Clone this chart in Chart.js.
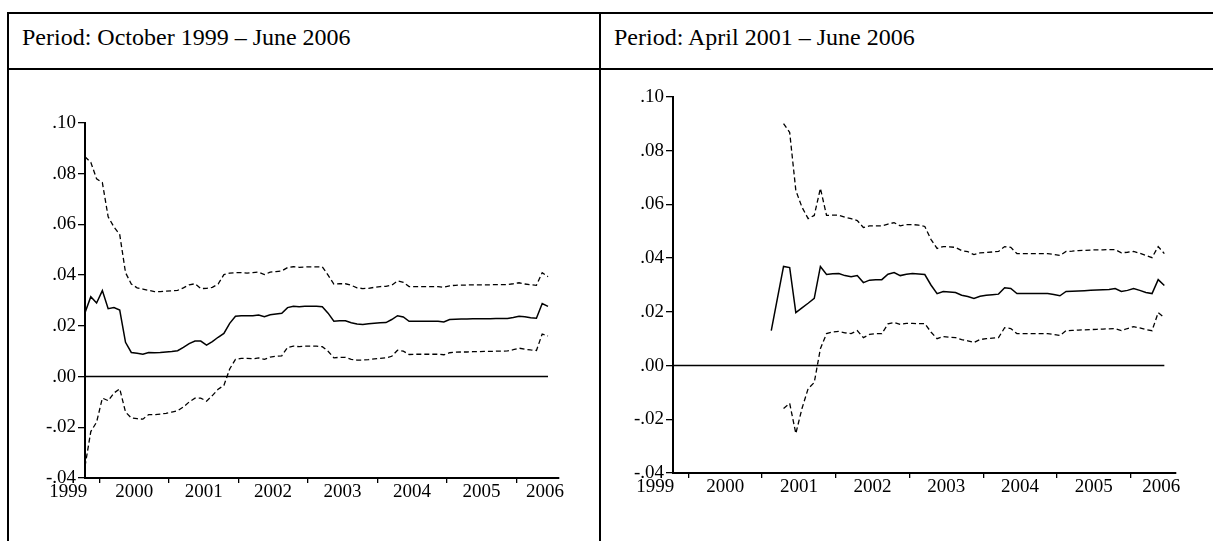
<!DOCTYPE html>
<html>
<head>
<meta charset="utf-8">
<script src="https://cdn.jsdelivr.net/npm/chart.js@4.4.1/dist/chart.umd.min.js"></script>
<style>
  body { margin: 0; background: #fff; }
  #page { position: relative; width: 1213px; height: 541px; overflow: hidden; font-family: 'Liberation Serif', 'Times New Roman', serif; }
  .rule { position: absolute; background: #000; }
  .head { position: absolute; top: 23px; font-size: 24px; line-height: 28px; color: #000; white-space: nowrap; }
  canvas { position: absolute; }
</style>
</head>
<body>
<div id="page">
  <div class="rule" style="left:7px;top:12px;width:1206px;height:2px"></div>
  <div class="rule" style="left:7px;top:68px;width:1206px;height:2px"></div>
  <div class="rule" style="left:7px;top:12px;width:2px;height:529px"></div>
  <div class="rule" style="left:599px;top:12px;width:2px;height:529px"></div>
  <div class="head" style="left:22px">Period: October 1999 – June 2006</div>
  <div class="head" style="left:614px">Period: April 2001 – June 2006</div>
  <canvas id="left" width="590" height="471" style="left:9px;top:70px"></canvas>
  <canvas id="right" width="612" height="471" style="left:601px;top:70px"></canvas>
</div>
<script>
/** DATA (monthly, index 0 = October 1999, index 80 = June 2006) */

const upper1 = [
    .0867, .0845, .0780, .0765, .0630, .0590, .0560, .0410, .0365, .0350,
    .0345, .0340, .0335, .0335, .0337, .0338, .0340, .0350, .0362, .0366,
    .0347, .0348, .0352, .0365, .0402, .0408, .0410, .0410, .0408, .0410,
    .0412, .0402, .0412, .0414, .0417, .0430, .0433, .0431, .0432, .0433,
    .0433, .0433, .0400, .0365, .0366, .0366, .0360, .0350, .0347, .0348,
    .0352, .0355, .0356, .0360, .0377, .0372, .0355, .0355, .0355, .0355,
    .0355, .0355, .0352, .0358, .0360, .0361, .0361, .0362, .0362, .0362,
    .0362, .0363, .0363, .0363, .0366, .0370, .0365, .0362, .0360, .0410,
    .0394
];
const mid1 = [
    .0252, .0315, .0290, .0339, .0268, .0272, .0262, .0135, .0095, .0092,
    .0088, .0095, .0094, .0095, .0097, .0099, .0102, .0115, .0130, .0140,
    .0140, .0124, .0138, .0155, .0170, .0210, .0238, .0240, .0240, .0240,
    .0243, .0236, .0244, .0247, .0250, .0272, .0277, .0275, .0277, .0277,
    .0277, .0275, .0250, .0218, .0220, .0220, .0212, .0207, .0205, .0208,
    .0210, .0212, .0213, .0225, .0240, .0235, .0218, .0218, .0218, .0218,
    .0218, .0218, .0215, .0225, .0226, .0227, .0227, .0228, .0228, .0228,
    .0228, .0229, .0229, .0229, .0233, .0238, .0236, .0232, .0230, .0288,
    .0277
];
const lower1 = [
    -.0354, -.0217, -.0180, -.0085, -.0095, -.0065, -.0048, -.0140, -.0163, -.0166,
    -.0168, -.0150, -.0150, -.0148, -.0145, -.0140, -.0135, -.0120, -.0100, -.0085,
    -.0085, -.0097, -.0075, -.0050, -.0035, .0030, .0068, .0072, .0072, .0070,
    .0074, .0068, .0077, .0080, .0082, .0115, .0120, .0118, .0120, .0120,
    .0120, .0118, .0100, .0074, .0076, .0076, .0068, .0065, .0065, .0067,
    .0070, .0072, .0074, .0080, .0104, .0100, .0087, .0088, .0088, .0088,
    .0088, .0088, .0086, .0094, .0096, .0097, .0097, .0098, .0098, .0099,
    .0099, .0100, .0100, .0101, .0106, .0112, .0108, .0105, .0103, .0168,
    .0160
];

// second panel: estimates start later
const mid2Start = 16;
const band2Start = 18;
const upper2 = [
    .0901, .0868, .0652, .0590, .0547, .0559, .0660, .0559, .0560, .0560,
    .0552, .0547, .0540, .0514, .0520, .0520, .0520, .0527, .0532, .0520,
    .0525, .0525, .0523, .0518, .0470, .0436, .0443, .0442, .0440, .0428,
    .0424, .0413, .0420, .0421, .0423, .0425, .0443, .0440, .0417, .0417,
    .0417, .0417, .0417, .0417, .0414, .0410, .0425, .0426, .0428, .0429,
    .0430, .0431, .0431, .0432, .0432, .0420, .0422, .0425, .0418, .0410,
    .0402, .0443, .0417
];
const mid2 = [
    .0130, .0250, .0369, .0365, .0197, .0215, .0232, .0250, .0369, .0339,
    .0342, .0343, .0335, .0331, .0335, .0309, .0318, .0320, .0320, .0340,
    .0346, .0335, .0340, .0343, .0341, .0339, .0300, .0268, .0276, .0274,
    .0272, .0262, .0257, .0250, .0258, .0262, .0264, .0266, .0290, .0287,
    .0268, .0268, .0268, .0268, .0268, .0268, .0265, .0260, .0276, .0277,
    .0278, .0279, .0280, .0281, .0282, .0283, .0287, .0276, .0280, .0287,
    .0280, .0272, .0268, .0320, .0298
];
const lower2 = [
    -.0160, -.0141, -.0253, -.0160, -.0086, -.0063, .0063, .0119, .0125, .0127,
    .0122, .0119, .0130, .0104, .0116, .0119, .0119, .0155, .0160, .0153,
    .0157, .0157, .0156, .0156, .0125, .0100, .0108, .0106, .0104, .0097,
    .0092, .0086, .0097, .0100, .0102, .0104, .0141, .0138, .0119, .0119,
    .0119, .0119, .0119, .0119, .0116, .0112, .0130, .0131, .0132, .0133,
    .0134, .0135, .0136, .0137, .0138, .0130, .0138, .0145, .0140, .0134,
    .0130, .0197, .0179
];

const zeroSpan = [0, 80];

const yTickValues = [-0.04, -0.02, 0, 0.02, 0.04, 0.06, 0.08, 0.10];
const yTickLabels = ['-.04', '-.02', '.00', '.02', '.04', '.06', '.08', '.10'];

const yearLabels = ['1999', '2000', '2001', '2002', '2003', '2004', '2005', '2006'];
const yearLabelAt = [-2.9, 8.5, 20.5, 32.5, 44.5, 56.5, 68.5, 79.5];
const yearMarkAt = [2.5, 14.5, 26.5, 38.5, 50.5, 62.5, 74.5];

/** CHART */

const xMin = 0;
const xMax = 81.9;
const tickFont = { family: "'Liberation Serif', 'Times New Roman', serif", size: 19 };

const xTicks = [
    ...yearLabels.map((label, i) => ({ value: yearLabelAt[i], label, mark: false })),
    ...yearMarkAt.map(v => ({ value: v, label: '', mark: true }))
].sort((a, b) => a.value - b.value);

const toPoints = (values, start) => values.map((v, i) => ({ x: start + i, y: v }));

const lineSet = (data, dashed, width) => {
    return {
        data,
        borderColor: '#000',
        borderWidth: width,
        borderDash: dashed ? [5, 3] : [],
        pointRadius: 0,
        tension: 0,
        fill: false
    };
};

const chartOptions = (axisWidth, padding) => {
    return {
        responsive: false,
        animation: false,
        devicePixelRatio: 1,
        layout: { padding },
        plugins: { legend: { display: false }, tooltip: { enabled: false } },
        scales: {
            x: {
                type: 'linear',
                min: xMin,
                max: xMax,
                afterBuildTicks: (scale) => { scale.ticks = xTicks.map(t => ({ value: t.value })); },
                afterFit: (scale) => { scale.height = 30; },
                border: { display: true, color: '#000', width: 2 },
                grid: {
                    drawOnChartArea: false,
                    tickLength: 5,
                    lineWidth: 1.3,
                    tickColor: (ctx) => (xTicks[ctx.index] && xTicks[ctx.index].mark) ? '#000' : 'rgba(0,0,0,0)'
                },
                ticks: {
                    autoSkip: false,
                    maxRotation: 0,
                    padding: -2,
                    color: '#000',
                    font: tickFont,
                    callback: (value, index) => xTicks[index].label
                }
            },
            y: {
                type: 'linear',
                min: -0.04,
                max: 0.10,
                afterBuildTicks: (scale) => { scale.ticks = yTickValues.map(v => ({ value: v })); },
                afterFit: (scale) => { scale.width = axisWidth; },
                border: { display: true, color: '#000', width: 2 },
                grid: { drawOnChartArea: false, tickLength: 7, lineWidth: 1.3, tickColor: '#000' },
                ticks: {
                    padding: 2,
                    color: '#000',
                    font: tickFont,
                    callback: (value, index) => yTickLabels[index]
                }
            }
        }
    };
};

const zeroData = zeroSpan.map(x => ({ x, y: 0 }));

const bandChart = (id, upper, mid, lower, midStart, bandStart, axisWidth, padding) => {
    const ctx = document.getElementById(id);
    new Chart(ctx, {
        type: 'line',
        data: {
            datasets: [
                lineSet(zeroData, false, 1.6),
                lineSet(toPoints(upper, bandStart), true, 1.3),
                lineSet(toPoints(lower, bandStart), true, 1.3),
                lineSet(toPoints(mid, midStart), false, 1.5)
            ]
        },
        options: chartOptions(axisWidth, padding)
    });
};

bandChart('left', upper1, mid1, lower1, 0, 0, 76, { top: 53, right: 40, bottom: 33, left: 0 });
bandChart('right', upper2, mid2, lower2, mid2Start, band2Start, 72, { top: 27, right: 37, bottom: 38, left: 0 });
</script>
</body>
</html>
